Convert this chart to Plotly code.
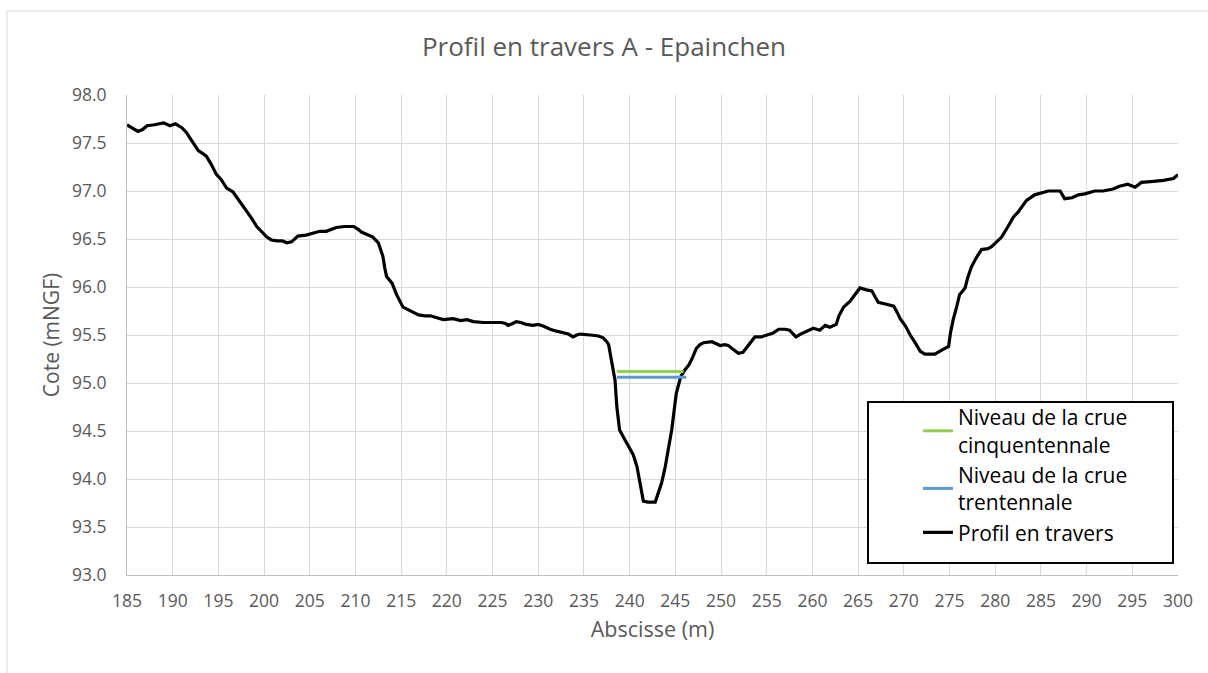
import plotly.graph_objects as go

# Cross-section profile: abscissa (m) and ground elevation (mNGF)
abscisse = [
    185.0, 185.6, 186.2, 186.7, 187.2, 188.0, 189.0, 189.7, 190.3, 191.0,
    191.5, 191.9, 192.4, 192.8, 193.3, 193.7, 194.2, 194.8, 195.3, 195.9,
    196.6, 197.2, 197.9, 198.6, 199.2, 199.8, 200.3, 200.8, 201.4, 202.0,
    202.5, 203.0, 203.3, 203.7, 204.6, 205.3, 206.1, 206.8, 207.3, 207.9,
    208.8, 209.8, 210.3, 210.7, 211.2, 211.9, 212.5, 213.0, 213.2, 213.4,
    214.0, 214.5, 215.2, 215.6, 216.2, 216.9, 217.6, 218.2, 218.9, 219.6,
    220.7, 221.1, 221.5, 222.2, 222.9, 224.0, 225.1, 226.0, 226.4, 226.7,
    227.2, 227.6, 228.1, 228.7, 229.4, 230.0, 230.6, 231.3, 232.0, 232.7,
    233.3, 233.8, 234.2, 234.6, 235.2, 235.7, 236.6, 237.1, 237.5, 237.7,
    238.0, 238.2, 238.4, 238.6, 238.9, 239.3, 239.7, 240.1, 240.4, 240.8,
    241.1, 241.5, 242.0, 242.8, 243.5, 243.9, 244.3, 244.6, 245.1, 245.6,
    246.0, 246.5, 246.9, 247.3, 247.7, 248.1, 249.0, 249.5, 249.9, 250.4,
    250.8, 251.2, 251.9, 252.4, 253.0, 253.7, 254.4, 255.3, 255.7, 256.3,
    257.0, 257.5, 257.9, 258.2, 258.7, 259.2, 260.1, 260.8, 261.4, 261.9,
    262.6, 262.9, 263.4, 264.1, 264.6, 265.2, 265.9, 266.5, 266.9, 267.2,
    268.1, 268.9, 269.3, 269.6, 270.2, 270.7, 271.3, 271.8, 272.3, 273.4,
    274.1, 274.9, 275.1, 275.4, 275.8, 276.1, 276.7, 277.0, 277.4, 277.9,
    278.5, 279.2, 279.6, 280.0, 280.7, 281.4, 282.0, 282.5, 283.0, 283.4,
    284.3, 285.0, 285.8, 287.1, 287.6, 288.4, 289.1, 289.8, 290.9, 291.8,
    292.9, 293.6, 294.5, 295.3, 296.0, 297.3, 298.4, 299.5, 300.0,
]
cote = [
    97.69, 97.65, 97.62, 97.64, 97.68, 97.69, 97.71, 97.68, 97.70, 97.66,
    97.61, 97.55, 97.48, 97.42, 97.39, 97.36, 97.28, 97.17, 97.12, 97.03,
    96.99, 96.91, 96.82, 96.72, 96.63, 96.57, 96.52, 96.49, 96.48, 96.48,
    96.46, 96.47, 96.50, 96.53, 96.54, 96.56, 96.58, 96.58, 96.60, 96.62,
    96.63, 96.63, 96.60, 96.57, 96.55, 96.52, 96.46, 96.32, 96.20, 96.11,
    96.04, 95.92, 95.79, 95.77, 95.74, 95.71, 95.70, 95.70, 95.68, 95.66,
    95.67, 95.66, 95.65, 95.66, 95.64, 95.63, 95.63, 95.63, 95.62, 95.60,
    95.62, 95.64, 95.63, 95.61, 95.60, 95.61, 95.59, 95.56, 95.54, 95.52,
    95.51, 95.48, 95.50, 95.51, 95.50, 95.50, 95.49, 95.47, 95.43, 95.40,
    95.24, 95.13, 95.03, 94.75, 94.51, 94.44, 94.37, 94.30, 94.25, 94.13,
    93.96, 93.77, 93.76, 93.76, 93.96, 94.13, 94.35, 94.51, 94.89, 95.07,
    95.13, 95.19, 95.27, 95.36, 95.40, 95.42, 95.43, 95.41, 95.39, 95.40,
    95.39, 95.36, 95.31, 95.32, 95.40, 95.48, 95.48, 95.51, 95.52, 95.56,
    95.56, 95.55, 95.51, 95.48, 95.51, 95.53, 95.57, 95.55, 95.60, 95.58,
    95.61, 95.70, 95.79, 95.85, 95.92, 95.99, 95.97, 95.96, 95.89, 95.84,
    95.82, 95.80, 95.73, 95.67, 95.59, 95.50, 95.41, 95.33, 95.30, 95.30,
    95.34, 95.38, 95.52, 95.66, 95.80, 95.92, 95.99, 96.10, 96.21, 96.30,
    96.39, 96.40, 96.42, 96.46, 96.52, 96.63, 96.73, 96.78, 96.85, 96.90,
    96.96, 96.98, 97.00, 97.00, 96.92, 96.93, 96.96, 96.97, 97.00, 97.00,
    97.02, 97.05, 97.07, 97.04, 97.09, 97.10, 97.11, 97.13, 97.17,
]

# Flood water levels across the channel
crue50_x = [238.6, 245.9]
crue50_y = [95.12, 95.12]
crue30_x = [238.6, 246.2]
crue30_y = [95.06, 95.06]

x_ticks = list(range(185, 301, 5))
y_ticks = [93.0, 93.5, 94.0, 94.5, 95.0, 95.5, 96.0, 96.5, 97.0, 97.5, 98.0]

FONT = "Open Sans"
GREY = "#595959"
GRID = "#d9d9d9"

fig = go.Figure()
fig.add_trace(go.Scatter(
    x=abscisse, y=cote, mode="lines", name="Profil en travers",
    line=dict(color="#000000", width=3.2), legendrank=3,
))
fig.add_trace(go.Scatter(
    x=crue50_x, y=crue50_y, mode="lines",
    name="Niveau de la crue<br>cinquentennale",
    line=dict(color="#92d050", width=3), legendrank=1,
))
fig.add_trace(go.Scatter(
    x=crue30_x, y=crue30_y, mode="lines",
    name="Niveau de la crue<br>trentennale",
    line=dict(color="#5b9bd5", width=3), legendrank=2,
))

# plot area: 127..1178 px horizontally, 95..575 px vertically
L, R, T, B = 127, 30, 95, 98
W, H = 1208, 673
pw, ph = W - L - R, H - T - B

def px(xp):
    return (xp - L) / pw

def py(yp):
    return (H - B - yp) / ph

shapes = [
    # chart frame (top and left edges)
    dict(type="line", xref="paper", yref="paper", x0=px(7), x1=px(1210),
         y0=py(11), y1=py(11), line=dict(color=GRID, width=1)),
    dict(type="line", xref="paper", yref="paper", x0=px(7), x1=px(7),
         y0=py(11), y1=py(675), line=dict(color=GRID, width=1)),
    # legend frame
    dict(type="rect", xref="paper", yref="paper", x0=px(868), x1=px(1173),
         y0=py(563), y1=py(402), line=dict(color="#000000", width=2),
         fillcolor="#ffffff", layer="above"),
]

fig.update_layout(
    width=W, height=H,
    margin=dict(l=L, r=R, t=T, b=B),
    paper_bgcolor="#ffffff", plot_bgcolor="#ffffff",
    font=dict(family=FONT, color=GREY),
    title=dict(text="Profil en travers A - Epainchen", x=0.5, xref="container",
               xanchor="center", y=1 - 47 / H, yanchor="middle",
               font=dict(size=26, color=GREY, family=FONT)),
    shapes=shapes,
    showlegend=True,
    legend=dict(x=px(918), y=py(397), xanchor="left", yanchor="top",
                bgcolor="rgba(0,0,0,0)", borderwidth=0,
                font=dict(size=21, color="#000000", family=FONT),
                traceorder="normal"),
)
fig.update_xaxes(
    range=[185, 300], tickvals=x_ticks, ticktext=[str(v) for v in x_ticks],
    showgrid=True, gridcolor=GRID, gridwidth=1, zeroline=False,
    showline=True, linecolor="#bfbfbf", linewidth=1, ticks="",
    tickfont=dict(size=17.5, color=GREY, family=FONT), ticklabelstandoff=10,
    title=dict(text="Abscisse (m)", font=dict(size=21.5, color=GREY, family=FONT),
               standoff=10),
)
fig.update_yaxes(
    range=[93, 98], tickvals=y_ticks, ticktext=[f"{v:.1f}" for v in y_ticks],
    showgrid=True, gridcolor=GRID, gridwidth=1, zeroline=False,
    showline=True, linecolor="#bfbfbf", linewidth=1, ticks="",
    tickfont=dict(size=17.5, color=GREY, family=FONT), ticklabelstandoff=16,
    title=dict(text="Cote (mNGF)", font=dict(size=21, color=GREY, family=FONT),
               standoff=6),
)

fig.write_html("out.html")
